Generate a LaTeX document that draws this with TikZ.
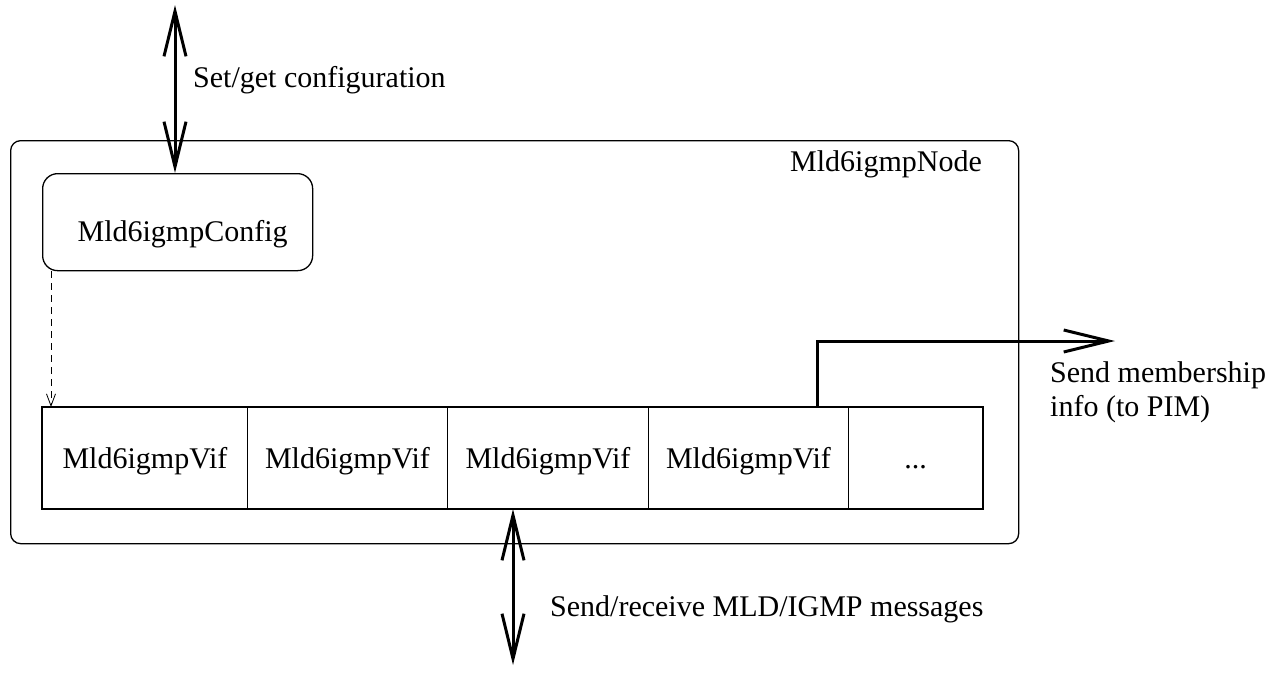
\documentclass[tikz,border=0pt]{standalone}
\usepackage{fontspec}
\setmainfont{Liberation Serif}
\usetikzlibrary{arrows.meta}
\begin{document}
\begin{tikzpicture}[x=1pt,y=-1pt,
  every node/.style={font=\fontsize{30}{34}\selectfont},
  boxstyle/.style={draw, line width=1.3pt, anchor=north west, inner sep=0pt},
  cell/.style={draw, line width=1pt, anchor=north west, inner sep=0pt, minimum height=101pt, text depth=0pt, text height=20pt},
  bigarrow/.style={line width=3pt, {Straight Barb[length=45pt,width=22pt,line width=3pt]}-{Straight Barb[length=45pt,width=22pt,line width=3pt]}},
  onearrow/.style={line width=3pt, -{Straight Barb[length=45pt,width=22pt,line width=3pt]}},
  dasharrow/.style={line width=0.8pt, dash pattern=on 7pt off 5pt, -{Straight Barb[length=12pt,width=9pt,line width=0.8pt]}},
  lbl/.style={anchor=west, inner sep=0pt, align=left}]
\useasboundingbox (0,0) rectangle (1281,672);

\node[boxstyle, rounded corners=10pt, minimum width=1008pt, minimum height=403pt] (mnode) at (10,140) {};
\node[anchor=north east, inner sep=0pt] (mnodelbl) at (982,150) {Mld6igmpNode};

\node[boxstyle, rounded corners=15pt, minimum width=270pt, minimum height=97pt] (config) at (42,173) {};
\node (configlbl) at ([xshift=5pt,yshift=-12pt]config.center) {Mld6igmpConfig};

\node[cell, minimum width=205pt] (v1) at (42,407) {Mld6igmpVif};
\node[cell, minimum width=200pt] (v2) at (247,407) {Mld6igmpVif};
\node[cell, minimum width=201pt] (v3) at (447,407) {Mld6igmpVif};
\node[cell, minimum width=200pt] (v4) at (648,407) {Mld6igmpVif};
\node[cell, minimum width=134pt] (v5) at (848,407) {...};
\draw[line width=1.3pt] (v1.north west) rectangle (v5.south east);

% top configuration arrow
\coordinate (cfgtop) at (175,5);
\draw[bigarrow] (cfgtop) -- (cfgtop |- config.north);
\node[lbl] (cfglbl) at (193,80) {Set/get configuration};

% dashed arrow
\coordinate (dashx) at (51,0);
\draw[dasharrow] (dashx |- config.south) -- (dashx |- v1.north);

% membership info arrow
\coordinate (pimout) at (1115,341);
\coordinate (pimstart) at (817,407);
\draw[onearrow, line join=miter] (pimstart) |- (pimout);
\node[lbl] (pimlbl) at (1050,392) {Send membership\\info (to PIM)};

% bottom messages arrow
\coordinate (msgs) at (513,665);
\draw[bigarrow] (msgs |- v3.south) -- (msgs);
\node[lbl] (msglbl) at (550,609) {Send/receive MLD/IGMP messages};
\end{tikzpicture}
\end{document}
